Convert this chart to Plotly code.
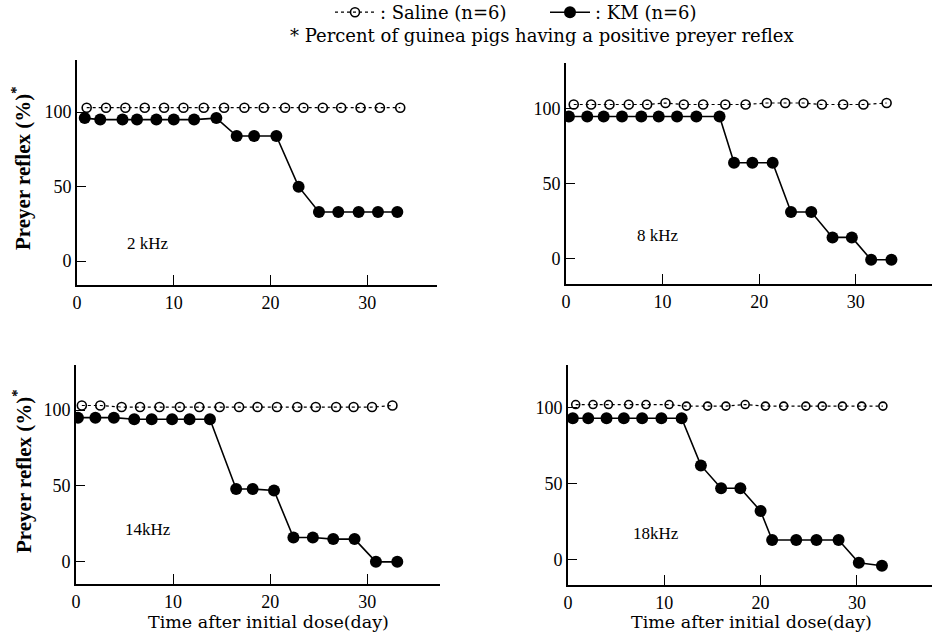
import plotly.graph_objects as go

# ---------------- data ----------------
panel_labels = ["2 kHz", "8 kHz", "14kHz", "18kHz"]

sal_days_2 = [1.0, 3.0, 5.0, 7.0, 9.0, 11.0, 13.1, 15.2, 17.3, 19.3, 21.5, 23.4, 25.4, 27.3, 29.3, 31.3, 33.4]
sal_2 = [103, 103, 103, 103, 103, 103, 103, 103, 103, 103, 103, 103, 103, 103, 103, 103, 103]
km_days_2 = [0.8, 2.4, 4.7, 6.2, 8.2, 10.0, 12.1, 14.4, 16.5, 18.3, 20.6, 22.9, 25.0, 27.0, 29.1, 31.1, 33.1]
km_2 = [96, 95, 95, 95, 95, 95, 95, 96, 84, 84, 84, 50, 33, 33, 33, 33, 33]

sal_days_8 = [0.8, 2.6, 4.5, 6.5, 8.4, 10.3, 12.2, 14.2, 16.5, 18.6, 20.8, 22.7, 24.6, 26.5, 28.7, 30.8, 33.2]
sal_8 = [103, 103, 103, 103, 103, 104, 103, 103, 103, 103, 104, 104, 104, 103, 103, 103, 104]
km_days_8 = [0.3, 2.2, 3.9, 5.8, 7.8, 9.6, 11.5, 13.5, 15.9, 17.4, 19.3, 21.4, 23.3, 25.4, 27.6, 29.6, 31.6, 33.7]
km_8 = [95, 95, 95, 95, 95, 95, 95, 95, 95, 64, 64, 64, 31, 31, 14, 14, -1, -1]

sal_days_14 = [0.6, 2.5, 4.7, 6.6, 8.6, 10.7, 12.7, 14.8, 16.8, 18.7, 20.7, 22.8, 24.7, 26.8, 28.6, 30.5, 32.6]
sal_14 = [103, 103, 102, 102, 102, 102, 102, 102, 102, 102, 102, 102, 102, 102, 102, 102, 103]
km_days_14 = [0.2, 2.0, 3.9, 6.0, 7.8, 9.9, 11.7, 13.8, 16.5, 18.2, 20.4, 22.4, 24.4, 26.5, 28.7, 30.9, 33.1]
km_14 = [95, 95, 95, 94, 94, 94, 94, 94, 48, 48, 47, 16, 16, 15, 15, 0, 0]

sal_days_18 = [0.8, 2.6, 4.2, 6.3, 8.1, 10.5, 12.3, 14.5, 16.4, 18.4, 20.5, 22.4, 24.7, 26.4, 28.5, 30.5, 32.7]
sal_18 = [102, 102, 102, 102, 102, 102, 101, 101, 101, 102, 101, 101, 101, 101, 101, 101, 101]
km_days_18 = [0.5, 2.1, 4.0, 5.8, 7.7, 9.7, 11.8, 13.8, 15.9, 17.9, 20.0, 21.2, 23.7, 25.8, 28.1, 30.2, 32.6]
km_18 = [93, 93, 93, 93, 93, 93, 93, 62, 47, 47, 32, 13, 13, 13, 13, -2, -4]

x_ticks = [0, 10, 20, 30]
y_ticks = [0, 50, 100]

legend_saline = ": Saline (n=6)"
legend_km = ": KM (n=6)"
footnote = "* Percent of guinea pigs having a positive preyer reflex"
y_title = "Preyer reflex (%)<sup>*</sup>"
x_title = "Time after initial dose(day)"

# ---------------- layout geometry (pixels) ----------------
W, H = 932, 636
panels = [
    (77, 437, 60, 285, [0, 37.2], [-16, 135]),
    (566, 932, 63, 284, [0, 37.9], [-17.2, 130.8]),
    (76, 440, 365, 584, [0, 37.5], [-14.6, 129.7]),
    (568, 932, 365, 585, [0, 37.8], [-16.6, 128]),
]
label_pos = [(7.3, 12), (9.5, 15.5), (7.4, 21), (9.1, 17)]

series = [
    (sal_days_2, sal_2, km_days_2, km_2),
    (sal_days_8, sal_8, km_days_8, km_8),
    (sal_days_14, sal_14, km_days_14, km_14),
    (sal_days_18, sal_18, km_days_18, km_18),
]

fig = go.Figure()
serif = "Liberation Serif"

for i, (sd, sv, kd, kv) in enumerate(series):
    ax = "" if i == 0 else str(i + 1)
    fig.add_trace(go.Scatter(
        x=sd, y=sv, mode="lines+markers", name=legend_saline,
        xaxis="x" + ax, yaxis="y" + ax, showlegend=(i == 0),
        line=dict(color="black", width=1.2, dash="3px,3px"),
        marker=dict(symbol="circle-open", size=9 if i < 3 else 8, color="black", line=dict(width=1.6)),
    ))
    fig.add_trace(go.Scatter(
        x=kd, y=kv, mode="lines+markers", name=legend_km,
        xaxis="x" + ax, yaxis="y" + ax, showlegend=(i == 0),
        line=dict(color="black", width=1.6),
        marker=dict(symbol="circle", size=12, color="black"),
    ))

layout = dict(
    width=W, height=H,
    margin=dict(l=0, r=0, t=0, b=0, autoexpand=False),
    paper_bgcolor="white", plot_bgcolor="white",
    font=dict(family=serif, size=18, color="black"),
    showlegend=True,
    legend=dict(orientation="h", x=330 / W, xanchor="left", y=1 + 6 / H, yanchor="top",
                font=dict(family="DejaVu Serif", size=18, color="black"),
                bgcolor="rgba(0,0,0,0)", itemwidth=40,
                entrywidth=160, entrywidthmode="pixels"),
)

annotations = []
for i, (x0, x1, yt, yb, xr, yr) in enumerate(panels):
    ax = "" if i == 0 else str(i + 1)
    layout["xaxis" + ax] = dict(
        domain=[x0 / W, x1 / W], range=xr, anchor="y" + ax,
        showline=True, linecolor="black", linewidth=2,
        ticks="inside", ticklen=10, tickwidth=1.3, tickcolor="black",
        tickvals=x_ticks, showgrid=False, zeroline=False,
        tickfont=dict(family=serif, size=18, color="black"),
    )
    layout["yaxis" + ax] = dict(
        domain=[1 - yb / H, 1 - yt / H], range=yr, anchor="x" + ax,
        showline=True, linecolor="black", linewidth=2,
        ticks="inside", ticklen=9, tickwidth=1.3, tickcolor="black",
        tickvals=y_ticks, showgrid=False, zeroline=False,
        tickfont=dict(family=serif, size=18, color="black"),
    )
    lx, ly = label_pos[i]
    annotations.append(dict(
        text=panel_labels[i], x=lx, y=ly, xref="x" + ax, yref="y" + ax,
        showarrow=False, font=dict(family=serif, size=17, color="black"),
    ))

for yc in (168, 471):
    annotations.append(dict(
        text=y_title, x=22 / W, y=1 - yc / H, xref="paper", yref="paper",
        textangle=-90, showarrow=False, xanchor="center", yanchor="middle",
        font=dict(family=serif, size=21, color="black", weight="bold"),
    ))
for xc in (268, 751):
    annotations.append(dict(
        text=x_title, x=xc / W, y=1 - 622 / H, xref="paper", yref="paper",
        showarrow=False, xanchor="center", yanchor="middle",
        font=dict(family="DejaVu Serif", size=17.5, color="black"),
    ))
annotations.append(dict(
    text=footnote, x=542 / W, y=1 - 36 / H, xref="paper", yref="paper",
    showarrow=False, xanchor="center", yanchor="middle",
    font=dict(family="DejaVu Serif", size=18, color="black"),
))

layout["annotations"] = annotations
fig.update_layout(**layout)
fig.write_html("out.html")
